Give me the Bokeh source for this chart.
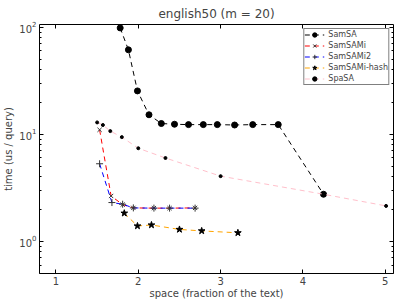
from bokeh.plotting import figure
from bokeh.models import FixedTicker, LinearAxis, LogAxis, Range1d
from bokeh.embed import file_html
from bokeh.resources import INLINE

# ---- data ----
samsa_x = [1.78, 1.88, 1.99, 2.13, 2.28, 2.44, 2.61, 2.79, 2.96, 3.17, 3.39, 3.70, 4.25]
samsa_y = [98.5, 61.5, 25.4, 15.2, 12.6, 12.4, 12.3, 12.3, 12.3, 12.2, 12.3, 12.3, 2.75]

samsami_x = [1.53, 1.67, 1.81, 1.94, 2.19, 2.38, 2.69]
samsami_y = [11.0, 2.65, 2.2, 2.05, 2.04, 2.04, 2.05]

samsami2_x = [1.53, 1.68, 1.81, 1.94, 2.19, 2.38, 2.69]
samsami2_y = [5.3, 2.3, 2.22, 2.05, 2.04, 2.04, 2.04]

hash_x = [1.83, 1.99, 2.16, 2.50, 2.77, 3.21]
hash_y = [1.83, 1.39, 1.42, 1.29, 1.25, 1.20]

spasa_x = [1.50, 1.57, 1.66, 1.80, 2.00, 2.33, 3.00, 4.25, 5.01]
spasa_y = [12.9, 12.2, 10.7, 9.4, 7.4, 6.0, 4.06, 2.75, 2.14]

x_ticks = [1, 2, 3, 4, 5]
y_ticks = [1, 10, 100]

FONT = "DejaVu Sans"

p = figure(width=399, height=301, y_axis_type="log",
           x_range=Range1d(0.8, 5.1), y_range=Range1d(0.5, 106),
           output_backend="svg", toolbar_location=None,
           title="english50 (m = 20)",
           x_axis_label="space (fraction of the text)",
           y_axis_label="time (us / query)",
           min_border_left=34, min_border_right=6, min_border_top=4, min_border_bottom=24)

p.background_fill_color = "white"
p.border_fill_color = "white"
p.outline_line_color = "black"
p.outline_line_width = 1
p.xgrid.visible = False
p.ygrid.visible = False

p.title.align = "center"
p.title.text_font = FONT
p.title.text_font_size = "12px"
p.title.text_font_style = "normal"
p.title.standoff = 8

minor_y = [m * 10.0 ** e for e in (-1, 0, 1, 2) for m in range(2, 10)]
xt = FixedTicker(ticks=x_ticks, minor_ticks=[])
yt = FixedTicker(ticks=y_ticks, minor_ticks=minor_y)

for ax in p.xaxis:
    ax.ticker = xt
for ax in p.yaxis:
    ax.ticker = yt

def style_axis(ax, labels=True):
    ax.axis_line_color = None
    ax.major_tick_in = 4
    ax.major_tick_out = 0
    ax.minor_tick_in = 2
    ax.minor_tick_out = 0
    ax.major_tick_line_color = "black"
    ax.minor_tick_line_color = "black"
    ax.major_label_text_font = FONT
    ax.major_label_text_font_size = "10px"
    ax.axis_label_text_font = FONT
    ax.axis_label_text_font_size = "10px"
    ax.axis_label_text_font_style = "normal"
    ax.axis_label_standoff = 2
    ax.major_label_standoff = 3
    if not labels:
        ax.major_label_text_font_size = "1px"
        ax.major_label_text_color = None
        ax.major_label_standoff = 0

for ax in p.xaxis:
    style_axis(ax)
    ax.axis_label_standoff = 0
for ax in p.yaxis:
    style_axis(ax)

top = LinearAxis(ticker=xt)
style_axis(top, labels=False)
right = LogAxis(ticker=yt)
style_axis(right, labels=False)
p.add_layout(top, "above")
p.add_layout(right, "right")

DASH = "5 4"
series = [
    ("SamSA", samsa_x, samsa_y, "black", "circle", 6),
    ("SamSAMi", samsami_x, samsami_y, "red", "x", 6),
    ("SamSAMi2", samsami2_x, samsami2_y, "blue", "cross", 7),
    ("SamSAMi-hash", hash_x, hash_y, "orange", "star", 7),
    ("SpaSA", spasa_x, spasa_y, "pink", "circle", 3),
]
for name, xs, ys, col, mk, sz in series:
    p.line(xs, ys, line_color=col, line_dash=DASH, line_width=1, legend_label=name)
    if mk in ("x", "cross"):
        p.scatter(xs, ys, marker=mk, size=sz, line_color="#333333", line_width=1,
                  legend_label=name)
    else:
        p.scatter(xs, ys, marker=mk, size=sz, fill_color="black", line_color="black",
                  legend_label=name)

lg = p.legend[0]
lg.location = "top_right"
lg.margin = 4
lg.padding = 0
lg.spacing = 0
lg.label_text_font = FONT
lg.label_text_font_size = "8px"
lg.label_height = 11
lg.glyph_height = 11
lg.glyph_width = 20
lg.label_standoff = 4
lg.border_line_color = "black"
lg.border_line_width = 1
lg.background_fill_alpha = 1

open("out.html", "w").write(file_html(p, INLINE))
